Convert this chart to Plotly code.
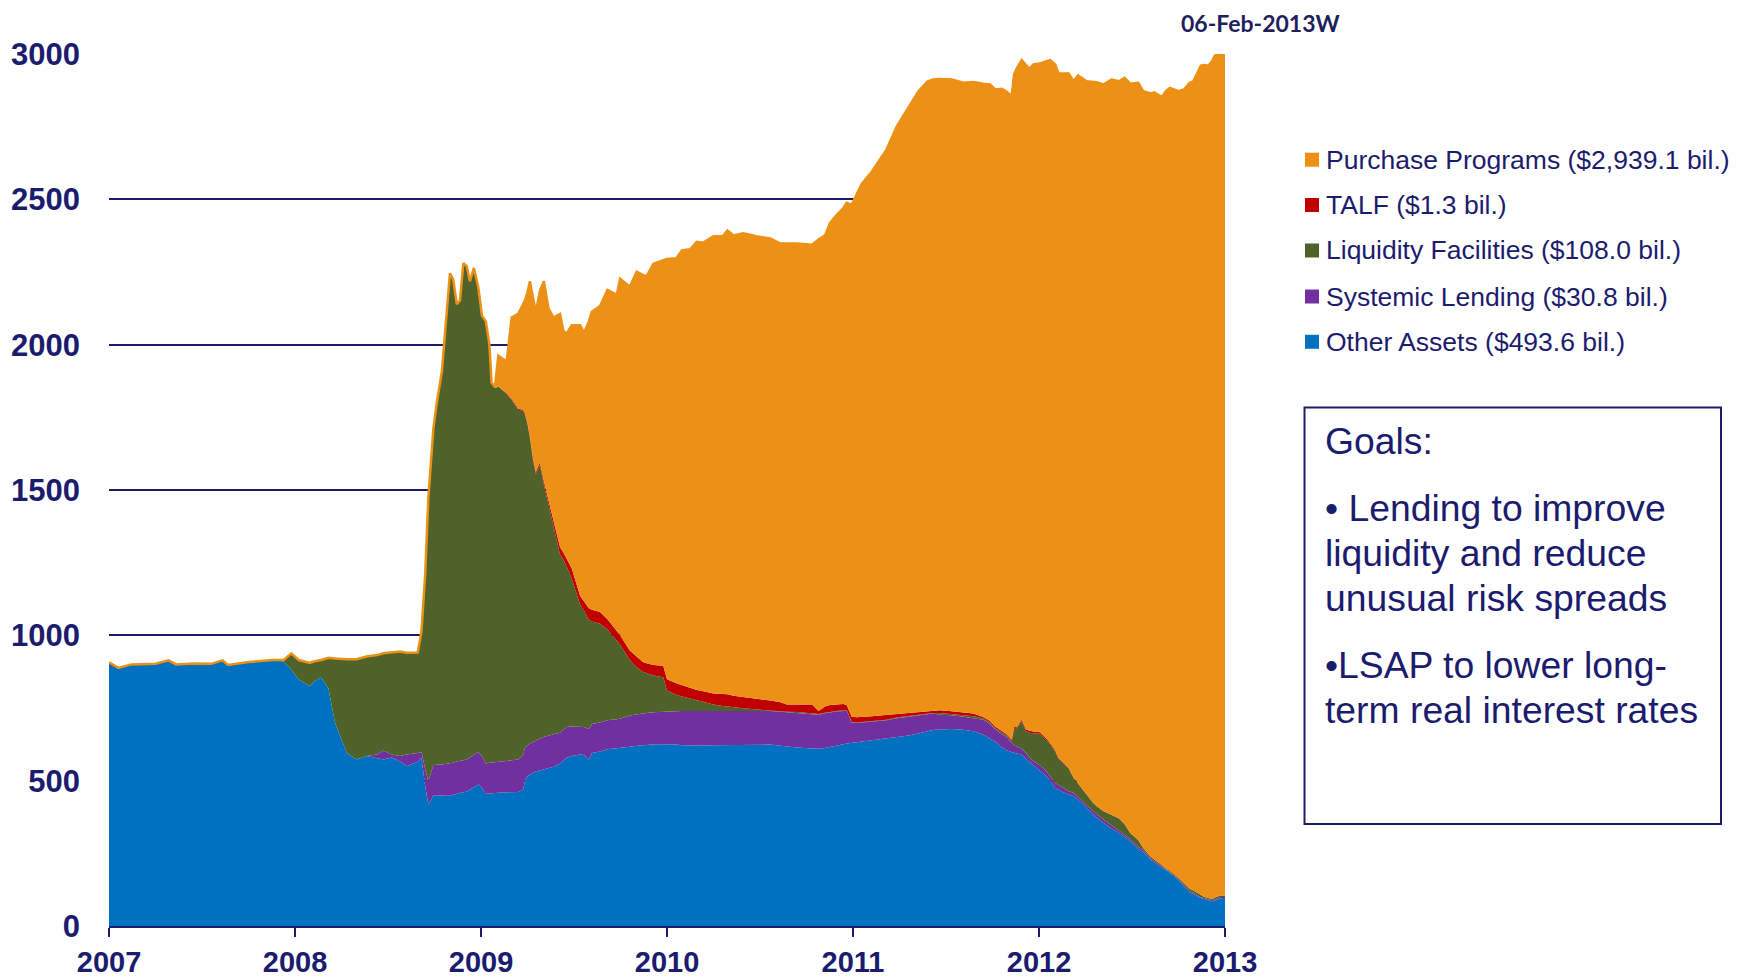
import plotly.graph_objects as go

# page offset of the figure inside the html body (default body margin)
OFF = 8
W, H = 1738, 970
L, R, T, B = 101, 521, 46, 52

# ---- data (cumulative layer tops, $ bil.) ----
years = [2007.00, 2007.05, 2007.12, 2007.25, 2007.32, 2007.36, 2007.45, 2007.55, 2007.61, 2007.64,
         2007.75, 2007.88, 2007.94, 2007.98, 2008.02, 2008.08, 2008.10, 2008.14, 2008.18, 2008.215,
         2008.278, 2008.33, 2008.385, 2008.44, 2008.475, 2008.52, 2008.565, 2008.60, 2008.66, 2008.68,
         2008.70, 2008.717, 2008.744, 2008.76, 2008.79, 2008.81, 2008.833, 2008.85, 2008.87, 2008.887,
         2008.905, 2008.923, 2008.94, 2008.962, 2008.985, 2009.005, 2009.026, 2009.045, 2009.057, 2009.075,
         2009.093, 2009.138, 2009.165, 2009.20, 2009.227, 2009.236, 2009.25, 2009.263, 2009.28, 2009.295,
         2009.317, 2009.338, 2009.362, 2009.39, 2009.425, 2009.443, 2009.46, 2009.488, 2009.533, 2009.554,
         2009.58, 2009.596, 2009.64, 2009.68, 2009.73, 2009.748, 2009.80, 2009.837, 2009.87, 2009.89,
         2009.927, 2009.98, 2010.00, 2010.05, 2010.08, 2010.125, 2010.16, 2010.195, 2010.25, 2010.30,
         2010.325, 2010.357, 2010.41, 2010.48, 2010.555, 2010.61, 2010.645, 2010.70, 2010.78, 2010.815,
         2010.85, 2010.876, 2010.912, 2010.948, 2010.966, 2010.993, 2011.02, 2011.046, 2011.10, 2011.145,
         2011.18, 2011.235, 2011.30, 2011.35, 2011.40, 2011.43, 2011.468, 2011.53, 2011.594, 2011.647,
         2011.70, 2011.737, 2011.764, 2011.80, 2011.826, 2011.853, 2011.866, 2011.88, 2011.907, 2011.93,
         2011.948, 2011.97, 2012.006, 2012.04, 2012.06, 2012.087, 2012.105, 2012.13, 2012.16, 2012.185,
         2012.21, 2012.256, 2012.29, 2012.31, 2012.346, 2012.39, 2012.43, 2012.46, 2012.49, 2012.534,
         2012.56, 2012.60, 2012.62, 2012.66, 2012.686, 2012.704, 2012.75, 2012.78, 2012.81, 2012.83,
         2012.87, 2012.89, 2012.91, 2012.93, 2012.946, 2012.973, 2013.00]

other_assets_top = [907, 888, 900, 902, 914, 900, 903, 902, 914, 898,
                    908, 915, 910, 882, 848, 825, 840, 855, 817, 699,
                    596, 573, 585, 579, 573, 580, 567, 550, 565, 579,
                    480, 418, 450, 450, 448, 448, 448, 452, 455, 458,
                    460, 463, 470, 478, 487, 475, 454, 456, 457, 458,
                    458, 460, 460, 461, 470, 500, 515, 520, 527, 532,
                    535, 538, 542, 548, 559, 568, 579, 585, 590, 588,
                    573, 595, 600, 608, 612, 613, 619, 620, 622, 623,
                    625, 625, 625, 624, 622, 621, 621, 621, 622, 622,
                    622, 623, 623, 624, 624, 620, 617, 614, 611, 610,
                    612, 615, 620, 625, 628, 630, 632, 635, 638, 642,
                    645, 650, 655, 662, 670, 674, 676, 678, 675, 670,
                    659, 645, 635, 615, 605, 598, 596, 594, 590, 575,
                    565, 550, 533, 515, 500, 475, 468, 460, 452, 447,
                    435, 405, 383, 372, 355, 335, 320, 305, 293, 265,
                    255, 228, 219, 200, 192, 182, 158, 135, 116, 110,
                    96, 93, 88, 85, 88, 95, 97]

systemic_lending_top = [907, 888, 900, 902, 914, 900, 903, 902, 914, 898,
                        908, 915, 910, 882, 848, 825, 840, 855, 817, 699,
                        596, 573, 585, 590, 604, 590, 585, 590, 595, 599,
                        540, 498, 553, 555, 556, 558, 559, 562, 566, 568,
                        570, 573, 580, 590, 599, 585, 559, 562, 563, 565,
                        566, 568, 570, 573, 590, 612, 622, 628, 632, 638,
                        645, 650, 655, 660, 665, 675, 685, 686, 687, 685,
                        678, 695, 700, 708, 711, 713, 724, 728, 731, 733,
                        735, 737, 738, 740, 740, 740, 740, 740, 740, 740,
                        740, 740, 740, 740, 740, 737, 735, 734, 728, 727,
                        732, 735, 738, 740, 741, 700, 698, 700, 703, 705,
                        708, 715, 720, 725, 730, 731, 727, 725, 720, 716,
                        710, 695, 678, 660, 650, 630, 621, 618, 610, 595,
                        580, 568, 552, 532, 515, 492, 485, 475, 464, 458,
                        445, 415, 395, 385, 366, 345, 326, 312, 300, 272,
                        262, 232, 223, 203, 194, 185, 162, 140, 120, 114,
                        99, 96, 91, 89, 92, 100, 100]

liquidity_facilities_top = [907, 888, 900, 902, 914, 900, 903, 902, 914, 898,
                            908, 915, 915, 938, 915, 905, 910, 915, 923, 920,
                            918, 918, 927, 932, 938, 940, 944, 940, 941, 1014,
                            1211, 1474, 1711, 1790, 1909, 2067, 2245, 2225, 2139, 2152,
                            2280, 2271, 2218, 2264, 2199, 2100, 2080, 2001, 1869, 1850,
                            1856, 1830, 1810, 1777, 1771, 1760, 1725, 1680, 1600, 1553,
                            1586, 1520, 1455, 1375, 1277, 1260, 1238, 1195, 1105, 1085,
                            1053, 1048, 1040, 1020, 980, 968, 915, 890, 875, 870,
                            862, 856, 810, 795, 790, 782, 775, 770, 762, 757,
                            755, 752, 749, 745, 741, 739, 737, 736, 730, 729,
                            734, 737, 740, 742, 743, 702, 700, 702, 705, 707,
                            710, 717, 722, 727, 732, 733, 733, 730, 726, 722,
                            715, 700, 680, 665, 655, 636, 678, 680, 704, 670,
                            665, 663, 661, 640, 625, 600, 575, 560, 542, 510,
                            490, 450, 424, 412, 395, 382, 370, 350, 320, 295,
                            268, 238, 229, 210, 196, 190, 165, 145, 128, 122,
                            106, 100, 96, 93, 98, 105, 105]

talf_top = [907, 888, 900, 902, 914, 900, 903, 902, 914, 898,
            908, 915, 915, 938, 915, 905, 910, 915, 923, 920,
            918, 918, 927, 932, 938, 940, 944, 940, 941, 1014,
            1211, 1474, 1711, 1790, 1909, 2067, 2245, 2225, 2139, 2152,
            2280, 2271, 2218, 2264, 2199, 2100, 2080, 2001, 1869, 1850,
            1856, 1833, 1813, 1780, 1775, 1765, 1730, 1686, 1608, 1562,
            1595, 1530, 1470, 1395, 1303, 1285, 1264, 1230, 1135, 1115,
            1093, 1088, 1080, 1055, 1012, 1000, 948, 925, 908, 904,
            898, 895, 849, 835, 829, 820, 812, 808, 800, 798,
            797, 792, 788, 782, 776, 770, 762, 762, 762, 740,
            755, 760, 762, 764, 760, 720, 718, 720, 722, 724,
            726, 730, 734, 737, 740, 740, 742, 739, 735, 731,
            719, 705, 686, 670, 660, 641, 685, 684, 710, 677,
            672, 669, 667, 645, 630, 605, 578, 563, 544, 512,
            492, 452, 425, 413, 396, 383, 371, 351, 321, 296,
            269, 239, 229, 210, 196, 190, 165, 145, 128, 122,
            106, 100, 96, 93, 98, 105, 105]

purchase_programs_top = [907, 888, 900, 902, 914, 900, 903, 902, 914, 898,
                         908, 915, 915, 938, 915, 905, 910, 915, 923, 920,
                         918, 918, 927, 932, 938, 940, 944, 940, 941, 1014,
                         1211, 1474, 1711, 1790, 1909, 2067, 2245, 2225, 2139, 2152,
                         2280, 2271, 2218, 2264, 2199, 2100, 2080, 2001, 1869, 1855,
                         1962, 1942, 2093, 2106, 2140, 2152, 2180, 2218, 2160, 2113,
                         2185, 2218, 2126, 2093, 2106, 2047, 2038, 2067, 2067, 2041,
                         2080, 2113, 2133, 2188, 2172, 2227, 2199, 2251, 2240, 2235,
                         2278, 2291, 2295, 2297, 2324, 2328, 2354, 2351, 2373, 2373,
                         2393, 2376, 2383, 2373, 2365, 2348, 2348, 2348, 2344, 2362,
                         2376, 2418, 2446, 2470, 2488, 2481, 2517, 2552, 2594, 2636,
                         2671, 2750, 2820, 2870, 2905, 2912, 2914, 2912, 2901, 2904,
                         2898, 2895, 2878, 2880, 2870, 2855, 2929, 2950, 2979, 2960,
                         2949, 2964, 2967, 2975, 2979, 2964, 2933, 2933, 2933, 2906,
                         2926, 2906, 2905, 2903, 2895, 2912, 2906, 2918, 2898, 2901,
                         2872, 2864, 2868, 2852, 2875, 2883, 2872, 2878, 2901, 2906,
                         2960, 2962, 2960, 2975, 2995, 2998, 3000]

series_names = ["Other Assets", "Systemic Lending", "Liquidity Facilities", "TALF", "Purchase Programs"]
legend_labels = ["Purchase Programs ($2,939.1 bil.)", "TALF ($1.3 bil.)",
                 "Liquidity Facilities ($108.0 bil.)", "Systemic Lending ($30.8 bil.)",
                 "Other Assets ($493.6 bil.)"]
x_tick_values = [2007, 2008, 2009, 2010, 2011, 2012, 2013]
x_tick_labels = ["2007", "2008", "2009", "2010", "2011", "2012", "2013"]
y_tick_values = [0, 500, 1000, 1500, 2000, 2500, 3000]
date_label = "06-Feb-2013W"
goals_lines = ["Goals:", "• Lending to improve", "liquidity and reduce",
               "unusual risk spreads", "•LSAP to lower long-", "term real interest rates"]

# ---- styles ----
COL_ORANGE = "#EC9116"
COL_RED = "#C00000"
COL_GREEN = "#4F622A"
COL_PURPLE = "#7030A0"
COL_BLUE = "#0070C0"
NAVY = "#1C1C6E"
FONT = "Liberation Sans, Arial, sans-serif"

layer_colors = [COL_BLUE, COL_PURPLE, COL_GREEN, COL_RED, COL_ORANGE]
layer_tops = [other_assets_top, systemic_lending_top, liquidity_facilities_top, talf_top, purchase_programs_top]
legend_colors = [COL_ORANGE, COL_RED, COL_GREEN, COL_PURPLE, COL_BLUE]

PW = W - L - R
PH = H - T - B


def xp(px):
    # page pixel -> paper fraction
    return (px - OFF - L) / PW


def yp(py):
    return (H - B - (py - OFF)) / PH


fig = go.Figure()
for i, (name, col, top) in enumerate(zip(series_names, layer_colors, layer_tops)):
    last = i == len(series_names) - 1
    fig.add_trace(go.Scatter(
        x=years, y=top, name=name, mode="lines",
        fill="tozeroy" if i == 0 else "tonexty",
        fillcolor=col,
        line=dict(color=col, width=2.5 if last else 0),
        showlegend=False, hoverinfo="skip",
    ))

shapes = []
annotations = []

# legend
legend_rows = [159.7, 205, 250.5, 296.5, 341.8]
for lab, col, cy in zip(legend_labels, legend_colors, legend_rows):
    shapes.append(dict(type="rect", xref="paper", yref="paper",
                       x0=xp(1305), x1=xp(1319), y0=yp(cy + 7), y1=yp(cy - 7),
                       fillcolor=col, line=dict(width=0)))
    annotations.append(dict(xref="paper", yref="paper", x=xp(1324), y=yp(cy),
                            xanchor="left", yanchor="middle", showarrow=False,
                            text=lab, font=dict(family=FONT, size=26.5, color=NAVY)))

# goals box
shapes.append(dict(type="rect", xref="paper", yref="paper",
                   x0=xp(1304.5), x1=xp(1721), y0=yp(824), y1=yp(407.5),
                   line=dict(color=NAVY, width=2), fillcolor="rgba(0,0,0,0)"))
goal_baselines = [453, 520, 565, 610, 677, 722]
for txt, bl in zip(goals_lines, goal_baselines):
    annotations.append(dict(xref="paper", yref="paper", x=xp(1323), y=yp(bl - 12),
                            xanchor="left", yanchor="middle", showarrow=False,
                            text=txt, font=dict(family=FONT, size=37.3, color=NAVY)))

# date label (anchored at the top edge of the figure)
annotations.append(dict(xref="paper", yref="paper", x=xp(1260), y=yp(OFF),
                        xanchor="center", yanchor="top", showarrow=False,
                        text=date_label, borderpad=0,
                        font=dict(family="Lato, Open Sans, sans-serif", size=23, color="#1F1F5C",
                                  weight="bold")))

fig.update_layout(
    width=W, height=H,
    margin=dict(l=L, r=R, t=T, b=B, pad=0),
    paper_bgcolor="white", plot_bgcolor="white",
    showlegend=False,
    shapes=shapes, annotations=annotations,
    xaxis=dict(range=[2007, 2013], tickvals=x_tick_values, ticktext=x_tick_labels,
               automargin=False,
               showgrid=False, zeroline=False, showline=True, linecolor=NAVY, linewidth=2,
               ticks="outside", ticklen=9, tickwidth=2, tickcolor=NAVY,
               ticklabelstandoff=0,
               tickfont=dict(family=FONT, size=29, color=NAVY, weight="bold")),
    yaxis=dict(range=[0, 3000], tickvals=y_tick_values, automargin=False,
               showgrid=True, gridcolor=NAVY, gridwidth=2, zeroline=False, showline=False,
               ticks="", ticklabelstandoff=28,
               tickfont=dict(family=FONT, size=31, color=NAVY, weight="bold")),
)

fig.write_html("out.html")
